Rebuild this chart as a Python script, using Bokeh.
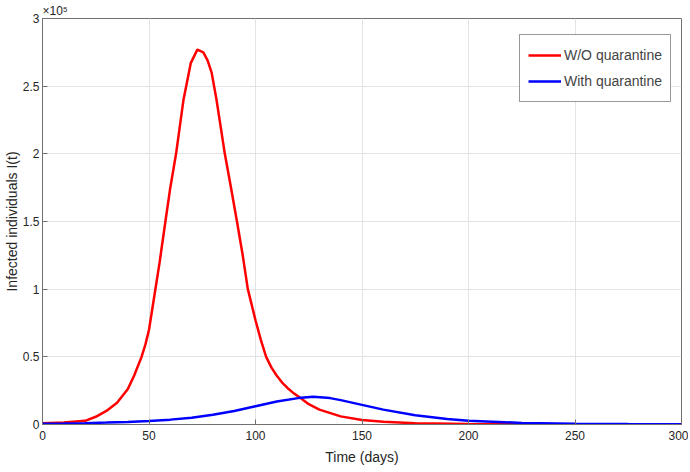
from bokeh.plotting import figure
from bokeh.models import Range1d, FixedTicker, Legend, LegendItem, Title
from bokeh.embed import file_html
from bokeh.resources import INLINE

# ---- data (infected individuals) ----
t_red = [0, 10, 20, 25, 30, 35, 40, 43, 46.5, 48.3, 50, 52.5, 55, 57.7, 60, 62.7, 66.2, 69.6,
         72.7, 75.5, 77.5, 79.4, 81.7, 85.6, 88.5, 91.3, 94, 96.4, 100, 102.5, 105, 107.5,
         110, 112.5, 115, 118, 121, 125, 130, 140, 150, 160, 175, 200, 225, 250, 275, 300]
i_red = [1000, 1500, 2700, 5700, 10000, 16000, 26000, 36000, 50000, 59000, 70000, 95000,
         120000, 150000, 175000, 200000, 240000, 267000, 277000, 275000, 269000, 260000,
         240000, 200000, 175000, 150000, 125000, 100000, 77000, 62500, 50000, 42000, 36000,
         31000, 27000, 23000, 19700, 15000, 11000, 6000, 3300, 2000, 1000, 400, 200, 100, 50, 20]

t_blue = [0, 10, 20, 30, 40, 50, 60, 70, 80, 90, 100, 110, 120, 127, 135, 140, 150, 160,
          175, 190, 200, 225, 250, 275, 300]
i_blue = [500, 700, 1000, 1400, 1900, 2600, 3600, 5000, 7200, 10000, 13500, 17000, 19500,
          20500, 19500, 18000, 14500, 11000, 6800, 4000, 2700, 1200, 600, 300, 150]

x_ticks = [0, 50, 100, 150, 200, 250, 300]
y_ticks = [0, 50000, 100000, 150000, 200000, 250000, 300000]
y_tick_labels = ["0", "0.5", "1", "1.5", "2", "2.5", "3"]
series_names = ["W/O quarantine", "With quarantine"]

FONT = "Liberation Sans"
AXIS_COLOR = "#707070"
TEXT_COLOR = "#262626"

p = figure(width=688, height=470, output_backend="svg", toolbar_location=None,
           x_range=Range1d(0, 300), y_range=Range1d(0, 300000),
           min_border_left=36, min_border_right=7, min_border_top=18, min_border_bottom=46)

p.title = Title(text="×10⁵", align="left", text_font=FONT, text_font_size="12px",
                text_font_style="normal", text_color=TEXT_COLOR, standoff=1)

r1 = p.line(t_red, i_red, line_color="#ff0000", line_width=2.5)
r2 = p.line(t_blue, i_blue, line_color="#0000ff", line_width=2.5)

p.xaxis.ticker = FixedTicker(ticks=x_ticks)
p.yaxis.ticker = FixedTicker(ticks=y_ticks)
p.yaxis.major_label_overrides = {k: v for k, v in zip(y_ticks, y_tick_labels)}

for ax in (p.xaxis[0], p.yaxis[0]):
    ax.axis_line_color = AXIS_COLOR
    ax.major_tick_line_color = AXIS_COLOR
    ax.major_tick_in = 5
    ax.major_tick_out = 0
    ax.minor_tick_line_color = None
    ax.major_label_text_font = FONT
    ax.major_label_text_font_size = "12px"
    ax.major_label_text_color = TEXT_COLOR
    ax.axis_label_text_font = FONT
    ax.axis_label_text_font_size = "14px"
    ax.axis_label_text_font_style = "normal"
    ax.axis_label_text_color = TEXT_COLOR

p.yaxis.major_label_standoff = 3
p.yaxis.axis_label = "Infected individuals I(t)"
p.yaxis.axis_label_standoff = 0
p.xaxis.major_label_standoff = 6
p.xaxis.axis_label = "Time (days)"
p.xaxis.axis_label_standoff = 6

p.xgrid.grid_line_color = "#e3e3e3"
p.ygrid.grid_line_color = "#e3e3e3"
p.outline_line_color = AXIS_COLOR
p.outline_line_width = 1

legend = Legend(items=[LegendItem(label=series_names[0], renderers=[r1]),
                       LegendItem(label=series_names[1], renderers=[r2])],
                location=(477, 322))
legend.label_text_font = FONT
legend.label_text_font_size = "14px"
legend.glyph_width = 33
legend.glyph_height = 24
legend.label_height = 24
legend.label_standoff = 3
legend.padding = 8
legend.spacing = 2
legend.margin = 0
legend.border_line_color = "#333333"
legend.border_line_width = 1
legend.background_fill_color = "white"
legend.background_fill_alpha = 1
p.add_layout(legend, "center")

open("out.html", "w").write(file_html(p, INLINE))
